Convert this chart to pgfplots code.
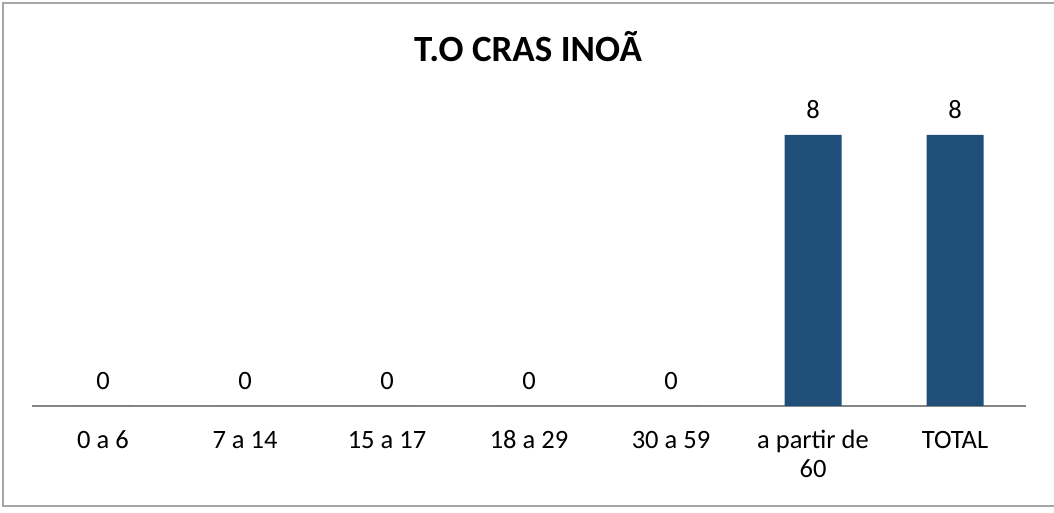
\documentclass[border=0pt]{standalone}
\usepackage{pgfplots}
\pgfplotsset{compat=1.18}
\usepackage{fontspec}
\setmainfont{Carlito}
\definecolor{barblue}{HTML}{1F4E79}
\definecolor{axisgray}{HTML}{868686}
\definecolor{bordergray}{HTML}{A6A6A6}
\begin{document}
\begin{tikzpicture}[x=1pt,y=1pt]
\path[use as bounding box] (0,0) rectangle (1054,513);
\draw[bordergray, line width=1.2pt] (1054,510) -- (3,510) -- (3,7) -- (1054,7);
\node[font=\fontsize{37}{44}\selectfont\bfseries] at (528,466) {T.O CRAS INOÃ};
\begin{axis}[
  at={(32pt,107pt)}, anchor=south west,
  scale only axis, width=994pt, height=300pt,
  xmin=-0.5, xmax=6.5, ymin=0, ymax=8.856,
  axis x line*=bottom, axis y line=none,
  x axis line style={axisgray, line width=1.5pt, -},
  /pgf/number format/assume math mode=true,
  xtick={0,1,2,3,4,5,6},
  xticklabels={\strut 0 a 6, \strut 7 a 14, \strut 15 a 17, \strut 18 a 29, \strut 30 a 59, {\strut a partir de\\60}, \strut TOTAL},
  major tick length=0pt,
  xticklabel style={font=\fontsize{26.5}{29}\selectfont, align=center, anchor=north, yshift=-19pt},
  ybar, bar width=57pt,
  nodes near coords,
  nodes near coords style={font=\fontsize{26.5}{30}\selectfont, text=black, inner sep=0pt, anchor=south, yshift=16.5pt},
  clip=false,
]
\addplot[fill=barblue, draw=none] coordinates {(0,0) (1,0) (2,0) (3,0) (4,0) (5,8) (6,8)};
\end{axis}
\end{tikzpicture}
\end{document}
